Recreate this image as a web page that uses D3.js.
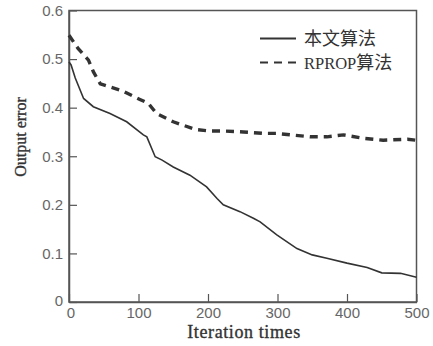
<!DOCTYPE html>
<html><head><meta charset="utf-8">
<script src="https://cdn.jsdelivr.net/npm/d3@7"></script>
<style>body{margin:0;background:#fff}</style>
</head><body>
<svg id="c" width="433" height="346"></svg>
<script>
const seriesLatin = ["", "RPROP"];
const seriesCJK = ["本文算法", "算法"];
const xTicks = [0, 100, 200, 300, 400, 500];
const yTicks = [0, 0.1, 0.2, 0.3, 0.4, 0.5, 0.6];
const xTickLabels = ["0", "100", "200", "300", "400", "500"];
const yTickLabels = ["0", "0.1", "0.2", "0.3", "0.4", "0.5", "0.6"];
const oursIter = [0, 3, 9, 21, 35, 59, 83, 107, 112, 124, 134, 150, 174, 198, 213, 222, 246, 266, 275, 299, 328, 350, 371, 400, 429, 450, 477, 500];
const oursErr = [0.494, 0.488, 0.461, 0.419, 0.402, 0.388, 0.371, 0.344, 0.340, 0.299, 0.292, 0.278, 0.261, 0.237, 0.213, 0.200, 0.186, 0.172, 0.165, 0.138, 0.110, 0.097, 0.090, 0.080, 0.071, 0.060, 0.059, 0.051];
const rpropIter = [0, 13, 28, 35, 45, 52, 76, 102, 114, 126, 150, 182, 203, 222, 251, 280, 299, 347, 371, 395, 424, 452, 487, 500];
const rpropErr = [0.549, 0.522, 0.498, 0.474, 0.449, 0.446, 0.435, 0.417, 0.409, 0.388, 0.371, 0.355, 0.352, 0.352, 0.350, 0.347, 0.347, 0.340, 0.340, 0.344, 0.337, 0.333, 0.335, 0.333];

const svg = d3.select("#c");
const L = 69, R = 416.5, T = 10.5, B = 302;
const x = d3.scaleLinear().domain([0, 500]).range([L, R]);
const y = d3.scaleLinear().domain([0, 0.6]).range([B, T]);
const axisCol = "#555";

svg.append("rect").attr("x", L).attr("y", T).attr("width", R - L).attr("height", B - T)
  .attr("fill", "none").attr("stroke", axisCol).attr("stroke-width", 1.5);

const xa = svg.append("g").attr("transform", `translate(0,${B})`)
  .call(d3.axisBottom(x).tickValues(xTicks).tickFormat((d, i) => xTickLabels[i]).tickSizeInner(-8).tickSizeOuter(0).tickPadding(14));
const ya = svg.append("g").attr("transform", `translate(${L},0)`)
  .call(d3.axisLeft(y).tickValues(yTicks).tickFormat((d, i) => yTickLabels[i]).tickSizeInner(-8).tickSizeOuter(0).tickPadding(14));
[xa, ya].forEach(a => {
  a.select(".domain").attr("stroke", axisCol).attr("stroke-width", 1.5);
  a.selectAll(".tick line").attr("stroke", axisCol).attr("stroke-width", 1.2);
  a.selectAll("text").attr("fill", "#666").style("font-family", "Liberation Sans, Arial, sans-serif").style("font-size", "15px");
});
ya.selectAll(".tick text").attr("x", -6);
ya.selectAll(".tick").filter(d => d === 0).select("text").attr("dy", "0.2em");
xa.selectAll(".tick text").attr("y", 5);
xa.selectAll(".tick").filter(d => d === 0).select("text").attr("dx", "0.1em");

const line = d3.line().x(d => x(d[0])).y(d => y(d[1]));
svg.append("path").datum(oursIter.map((v, i) => [v, oursErr[i]])).attr("d", line)
  .attr("fill", "none").attr("stroke", "#333").attr("stroke-width", 1.6);
svg.append("path").datum(rpropIter.map((v, i) => [v, rpropErr[i]])).attr("d", line)
  .attr("fill", "none").attr("stroke", "#333").attr("stroke-width", 3.4).attr("stroke-dasharray", "8,6");

// legend
const lg = svg.append("g");
seriesCJK.forEach((n, i) => {
  const yy = 38.5 + i * 24;
  lg.append("line").attr("x1", 260).attr("x2", 296).attr("y1", yy).attr("y2", yy)
    .attr("stroke", "#333").attr("stroke-width", 1.8)
    .attr("stroke-dasharray", i === 1 ? "8,6" : null);
  const t = lg.append("text").attr("x", 304).attr("y", yy + 6).attr("fill", "#333");
  if (seriesLatin[i]) t.append("tspan").text(seriesLatin[i])
    .style("font-family", "Liberation Serif, serif").style("font-size", "16.5px");
  t.append("tspan").text(n)
    .style("font-family", "'Noto Sans CJK SC', sans-serif").style("font-size", "18px");
});

svg.append("text").attr("x", 244).attr("y", 338).attr("text-anchor", "middle").text("Iteration times")
  .attr("fill", "#333").attr("stroke", "#333").attr("stroke-width", 0.35)
  .style("font-family", "Liberation Serif, serif").style("font-size", "18px").style("letter-spacing", "0.6px");
svg.append("text").attr("transform", "translate(26,137) rotate(-90)").attr("text-anchor", "middle").text("Output error")
  .attr("fill", "#333").attr("stroke", "#333").attr("stroke-width", 0.35)
  .style("font-family", "Liberation Serif, serif").style("font-size", "16px");
</script>
</body></html>
